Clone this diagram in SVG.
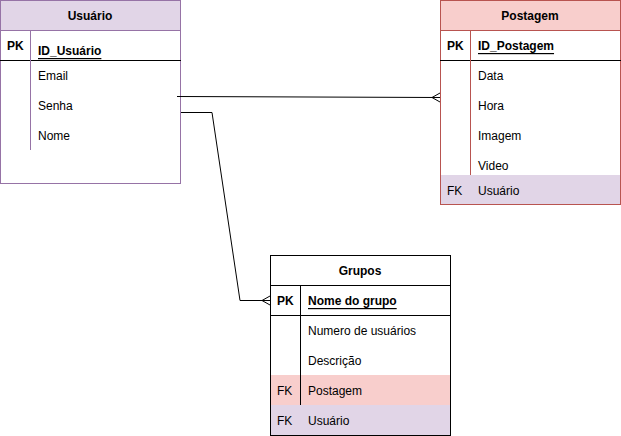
<svg xmlns="http://www.w3.org/2000/svg" width="621" height="436" viewBox="0 0 621 436">
<style>
text{font-family:"Liberation Sans",Arial,sans-serif;font-size:12px;fill:#000;dominant-baseline:central}
.t{font-weight:bold;text-anchor:middle}
.pk{font-weight:bold}
.u{font-weight:bold;text-decoration:underline}
.ln{stroke:#000;stroke-width:1;fill:none}
</style>
<rect width="621" height="436" fill="#fff"/>
<g id="usuario">
<rect x="0.5" y="0.5" width="180" height="183" fill="#fff" stroke="#9673a6"/>
<rect x="0.5" y="0.5" width="180" height="30" fill="#e1d5e7" stroke="#9673a6"/>
<line x1="0" y1="60.5" x2="181" y2="60.5" class="ln"/>
<line x1="30.5" y1="31" x2="30.5" y2="150" stroke="#9673a6"/>
<text class="t" x="90" y="16">Usuário</text>
<text class="pk" x="7" y="45.5">PK</text>
<text class="u" x="38" y="51">ID_Usuário</text>
<text x="38" y="76">Email</text>
<text x="38" y="106">Senha</text>
<text x="38" y="136">Nome</text>
</g>
<g id="postagem">
<rect x="440.5" y="0.5" width="180" height="204" fill="#fff" stroke="#b85450"/>
<rect x="440.5" y="0.5" width="180" height="30" fill="#f8cecc" stroke="#b85450"/>
<rect x="441" y="175" width="179" height="29" fill="#e1d5e7"/>
<line x1="440" y1="60.5" x2="621" y2="60.5" class="ln"/>
<line x1="470.5" y1="31" x2="470.5" y2="175" stroke="#b85450"/>
<text class="t" x="530" y="16">Postagem</text>
<text class="pk" x="447" y="46">PK</text>
<text class="u" x="478" y="46">ID_Postagem</text>
<text x="478" y="76">Data</text>
<text x="478" y="106">Hora</text>
<text x="478" y="136">Imagem</text>
<text x="478" y="166">Video</text>
<text x="447" y="191">FK</text>
<text x="478" y="191">Usuário</text>
</g>
<g id="grupos">
<rect x="270.5" y="255.5" width="180" height="180" fill="#fff" stroke="#000"/>
<line x1="270" y1="285.5" x2="451" y2="285.5" class="ln"/>
<line x1="270" y1="315.5" x2="451" y2="315.5" class="ln"/>
<rect x="271" y="375" width="179" height="30" fill="#f8cecc"/>
<rect x="271" y="405" width="179" height="30" fill="#e1d5e7"/>
<line x1="300.5" y1="286" x2="300.5" y2="405" stroke="#000"/>
<text class="t" x="360" y="271">Grupos</text>
<text class="pk" x="277" y="301">PK</text>
<text class="u" x="308" y="301">Nome do grupo</text>
<text x="308" y="331">Numero de usuários</text>
<text x="308" y="361">Descrição</text>
<text x="277" y="391">FK</text>
<text x="308" y="391">Postagem</text>
<text x="277" y="421">FK</text>
<text x="308" y="421">Usuário</text>
</g>
<g id="connectors" class="ln">
<path class="ln" d="M177 96.5 L440 97.5"/>
<path class="ln" d="M440 93 L432 97.5 L440 102"/>
<path class="ln" d="M181 112.5 L212 112.5 L240 300.5 L270 300.5"/>
<path class="ln" d="M270 296 L262 300.5 L270 305"/>
</g>
</svg>
